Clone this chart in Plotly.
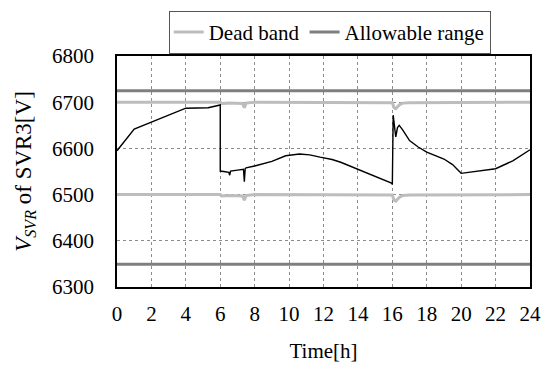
import plotly.graph_objects as go

# SVR3 secondary voltage over one day
time_h = [0, 1, 4, 5.3, 6.0, 6.0, 6.2, 6.5, 6.55, 6.6, 7.0, 7.35, 7.4, 7.45, 7.5, 8, 9, 9.8,
          10.6, 11.2, 11.8, 12.5, 13, 13.9, 14.5, 15, 15.5, 15.95, 16.0, 16.05, 16.15, 16.2,
          16.3, 16.4, 16.6, 17, 17.5, 18, 19, 19.5, 20, 22, 23, 24]
v_svr = [6595, 6642, 6687, 6688, 6694, 6551, 6550, 6548, 6542, 6551, 6553, 6555, 6528, 6556,
         6558, 6562, 6572, 6584, 6588, 6586, 6581, 6576, 6570, 6556, 6548, 6540, 6532, 6525,
         6522, 6672, 6640, 6625, 6645, 6650, 6640, 6617, 6603, 6592, 6577, 6565, 6546, 6556,
         6573, 6597]

# Dead band limits (upper / lower)
db_time = [0, 6, 6.1, 6.5, 7.3, 7.4, 7.5, 8, 16, 16.1, 16.2, 16.4, 16.6, 17, 24]
db_upper = [6700, 6700, 6697, 6698, 6697, 6688, 6698, 6700, 6699, 6688, 6686, 6694, 6698, 6699, 6700]
db_lower = [6500, 6500, 6497, 6498, 6497, 6488, 6498, 6500, 6499, 6488, 6486, 6494, 6498, 6499, 6500]

# Allowable voltage range
ar_time = [0, 24]
ar_upper = [6725, 6725]
ar_lower = [6349, 6349]

x_ticks = list(range(0, 25, 2))
y_ticks = [6300, 6400, 6500, 6600, 6700, 6800]

FONT = "Liberation Serif, serif"
DB_COLOR = "#bdbdbd"
AR_COLOR = "#7f7f7f"


def base_font(size=21):
    return dict(family=FONT, size=size, color="black")


fig = go.Figure()
fig.add_trace(go.Scatter(x=db_time, y=db_upper, mode="lines", name="Dead band",
                         legendgroup="db", line=dict(color=DB_COLOR, width=3)))
fig.add_trace(go.Scatter(x=db_time, y=db_lower, mode="lines", name="Dead band",
                         legendgroup="db", showlegend=False, line=dict(color=DB_COLOR, width=3)))
fig.add_trace(go.Scatter(x=ar_time, y=ar_upper, mode="lines", name="Allowable range",
                         legendgroup="ar", line=dict(color=AR_COLOR, width=3)))
fig.add_trace(go.Scatter(x=ar_time, y=ar_lower, mode="lines", name="Allowable range",
                         legendgroup="ar", showlegend=False, line=dict(color=AR_COLOR, width=3)))
fig.add_trace(go.Scatter(x=time_h, y=v_svr, mode="lines", showlegend=False,
                         line=dict(color="black", width=1.4)))

fig.update_layout(
    template="none",
    width=545, height=370,
    margin=dict(l=117, r=15, t=55, b=83),
    paper_bgcolor="white", plot_bgcolor="white",
    font=base_font(),
    showlegend=True,
    legend=dict(orientation="h", x=0.515, xanchor="center", y=1.19, yanchor="top",
                bordercolor="#555555", borderwidth=1, font=base_font(21),
                itemwidth=30, tracegroupgap=0, bgcolor="white"),
    xaxis=dict(range=[0, 24], tickvals=x_ticks, ticks="", showgrid=True,
               gridcolor="#8c8c8c", griddash="dot", gridwidth=1,
               showline=True, linecolor="black", linewidth=1.5, mirror=True,
               zeroline=False, tickfont=base_font(), ticklabelstandoff=7,
               title=dict(text="Time[h]", font=base_font(), standoff=18)),
    yaxis=dict(range=[6300, 6800], tickvals=y_ticks, ticks="", showgrid=True,
               gridcolor="#8c8c8c", griddash="dot", gridwidth=1,
               showline=True, linecolor="black", linewidth=1.5, mirror=True,
               zeroline=False, tickfont=base_font(), ticklabelstandoff=17,
               title=dict(text="<i>V</i><sub><i>SVR</i></sub> of SVR3[V]",
                          font=base_font(23), standoff=14)),
)

fig.write_html("out.html")
